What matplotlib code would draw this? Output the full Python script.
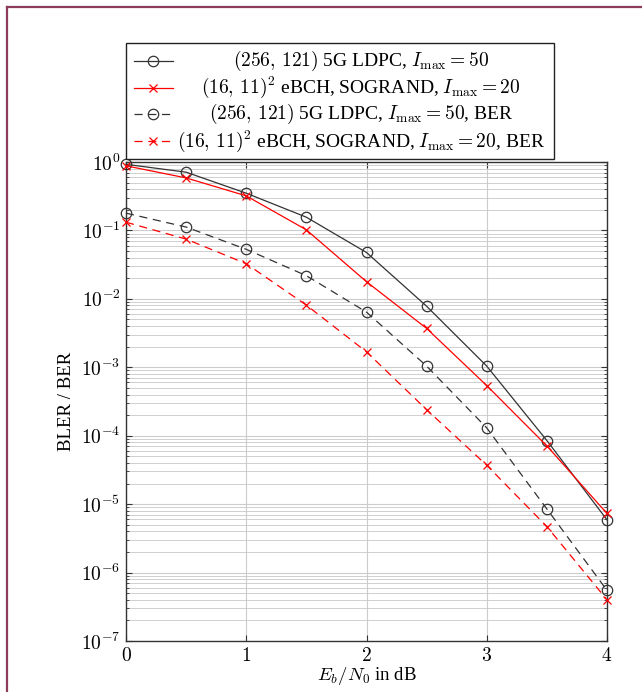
import matplotlib
matplotlib.use('Agg')
import matplotlib.pyplot as plt
from matplotlib.lines import Line2D
from matplotlib.patches import Rectangle
from matplotlib.ticker import LogLocator, NullFormatter

plt.rcParams['font.family'] = ['Liberation Serif', 'DejaVu Serif']
plt.rcParams['mathtext.fontset'] = 'cm'

# Eb/N0 points in dB
ebn0 = [0, 0.5, 1, 1.5, 2, 2.5, 3, 3.5, 4]

# Block error rates
ldpc_bler = [0.925, 0.71, 0.35, 0.156, 0.0476, 7.8e-3, 1.04e-3, 8.5e-5, 5.9e-6]
ebch_bler = [0.88, 0.585, 0.32, 0.102, 0.0178, 3.7e-3, 5.4e-4, 7.1e-5, 7.3e-6]
# Bit error rates
ldpc_ber = [0.179, 0.112, 0.053, 0.0218, 6.4e-3, 1.04e-3, 1.3e-4, 8.5e-6, 5.5e-7]
ebch_ber = [0.132, 0.0746, 0.0326, 8.1e-3, 1.68e-3, 2.4e-4, 3.7e-5, 4.7e-6, 4.0e-7]

labels = [r'$(256,\,121)$ 5G LDPC, $I_{\mathrm{max}}=50$',
          r'$(16,\,11)^2$ eBCH, SOGRAND, $I_{\mathrm{max}}=20$',
          r'$(256,\,121)$ 5G LDPC, $I_{\mathrm{max}}=50$, BER',
          r'$(16,\,11)^2$ eBCH, SOGRAND, $I_{\mathrm{max}}=20$, BER']

x_ticks = [0, 1, 2, 3, 4]
y_exponents = [0, -1, -2, -3, -4, -5, -6, -7]

dark = '#333333'
dashed = (0, (6.5, 4.5))
styles = [dict(color=dark, ls='-', marker='o', ms=7.5, mfc='none', mec=dark),
          dict(color='red', ls='-', marker='x', ms=5.5, mec='red'),
          dict(color=dark, ls=dashed, marker='o', ms=7.5, mfc='none', mec=dark),
          dict(color='red', ls=dashed, marker='x', ms=5.5, mec='red')]
series = [ldpc_bler, ebch_bler, ldpc_ber, ebch_ber]

W, H = 642.0, 692.0
fig = plt.figure(figsize=(6.42, 6.92), dpi=100)
ax = fig.add_axes([126 / W, 51 / H, 481 / W, 479 / H])

for values, st in zip(series, styles):
    ax.plot(ebn0, values, lw=0.9, mew=0.9, clip_on=False, zorder=3, **st)

ax.set_yscale('log')
ax.set_xlim(0, 4)
ax.set_ylim(1e-7, 1)
ax.set_xticks(x_ticks)
ax.set_xticklabels(['$%d$' % t for t in x_ticks])
ax.set_yticks([10.0 ** e for e in y_exponents])
ax.set_yticklabels(['$10^{%d}$' % e for e in y_exponents])
ax.yaxis.set_minor_locator(LogLocator(base=10, subs=range(2, 10), numticks=20))
ax.yaxis.set_minor_formatter(NullFormatter())
ax.tick_params(which='both', direction='in', top=True, right=True,
               color=dark, labelsize=14)
ax.tick_params(which='major', length=4, pad=4)
ax.tick_params(which='minor', length=2.5)
ax.grid(True, which='major', color='#cccccc', lw=0.8)
ax.grid(True, which='minor', axis='y', color='#c8c8c8', lw=0.6)
ax.set_axisbelow(True)
for sp in ax.spines.values():
    sp.set_color(dark)
    sp.set_linewidth(1.0)

ax.set_xlabel(r'$E_b/N_0$ in dB', fontsize=13.5, labelpad=0)
ax.set_ylabel('BLER / BER', fontsize=13.5, labelpad=4)

# Legend box above the axes, text centred like pgfplots
box = Rectangle((126 / W, 1 - 159 / H), 428 / W, 116 / H, transform=fig.transFigure,
                facecolor='white', edgecolor='#222222', lw=1.0, zorder=5)
fig.add_artist(box)
row_y = [61, 87.5, 114, 141]
for yy, st, lab in zip(row_y, styles, labels):
    fy = 1 - yy / H
    fig.add_artist(Line2D([134 / W, 173 / W], [fy, fy], transform=fig.transFigure,
                          lw=0.9, color=st['color'], ls=st['ls'], zorder=6))
    fig.add_artist(Line2D([153 / W], [fy], transform=fig.transFigure, lw=0, mew=0.9,
                          marker=st['marker'], ms=st['ms'], mfc='none', mec=st['mec'], zorder=6))
    fig.text(361 / W, fy, lab, ha='center', va='center', fontsize=14, zorder=7)

# Page frame
frame = '#8c3c5a'
fig.add_artist(Line2D([7 / W, 7 / W], [0, 1 - 7 / H], transform=fig.transFigure, color=frame, lw=1.6))
fig.add_artist(Line2D([7 / W, 1], [1 - 7 / H, 1 - 7 / H], transform=fig.transFigure, color=frame, lw=1.6))

fig.savefig('out.png', dpi=100)
